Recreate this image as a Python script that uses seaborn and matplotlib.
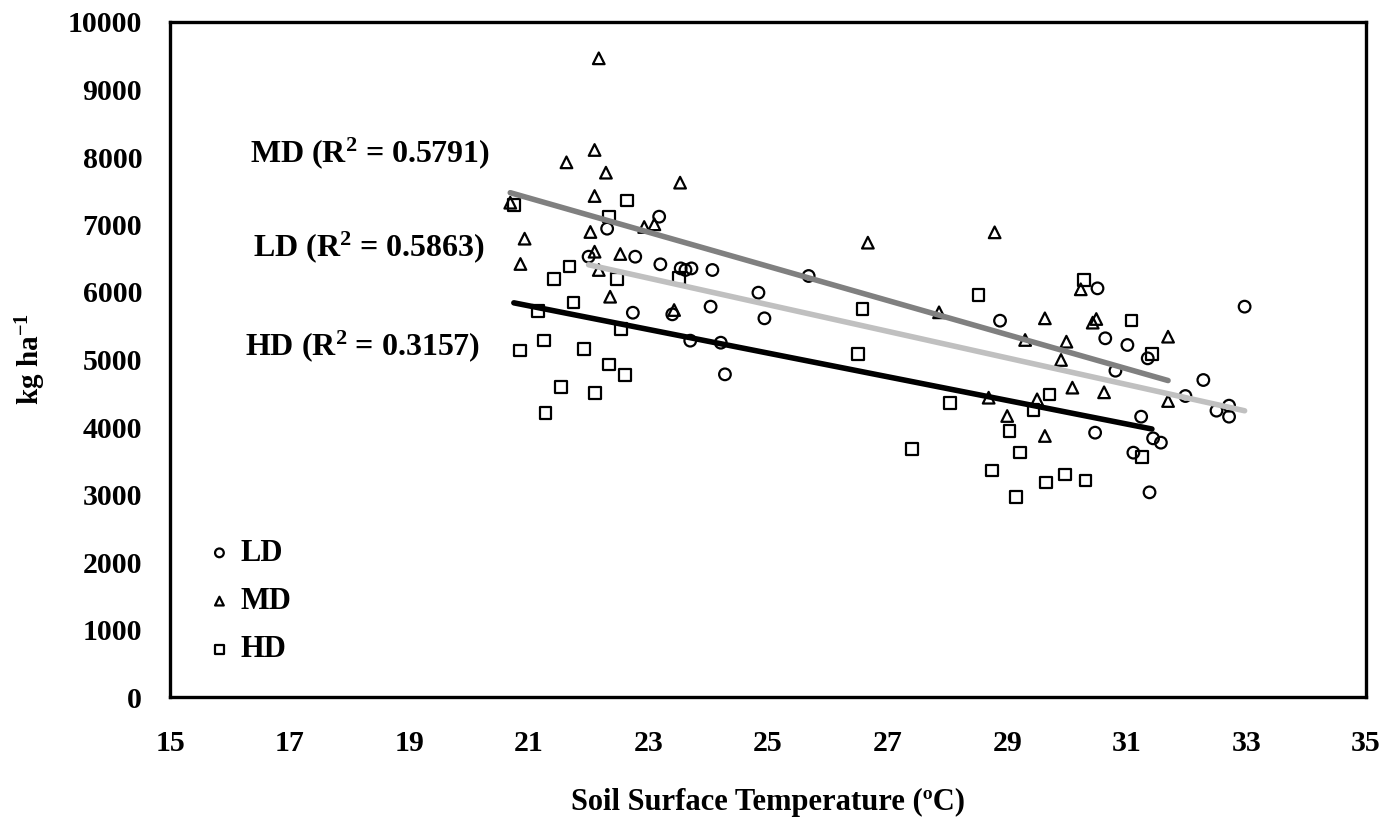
import numpy as np
import pandas as pd
import matplotlib
matplotlib.use("Agg")
import matplotlib.pyplot as plt
import seaborn as sns

# ---------------- data ----------------
ld_x = [22.00, 22.31, 22.78, 23.18, 23.20, 23.54, 23.62, 23.72, 24.07, 24.84,
        24.94, 24.04, 22.74, 23.40, 23.70, 24.21, 24.28, 25.68,
        28.88, 30.51, 32.97, 30.64, 31.01, 31.35, 30.81, 32.28, 31.98, 32.71,
        32.50, 32.71, 31.24, 30.47, 31.44, 31.57, 31.11, 31.38]
ld_y = [6523, 6938, 6523, 7116, 6410, 6350, 6326, 6350, 6326, 5990,
        5610, 5783, 5693, 5669, 5279, 5249, 4780, 6237,
        5575, 6054, 5783, 5314, 5215, 5017, 4834, 4696, 4459, 4316,
        4242, 4153, 4153, 3916, 3832, 3768, 3620, 3032]

md_x = [22.17, 22.10, 21.63, 22.29, 23.53, 22.10, 20.69, 22.93, 23.10, 22.03,
        20.93, 22.10, 22.53, 20.86, 22.17, 22.36, 23.43,
        26.67, 28.79, 27.86,
        29.63, 29.30, 30.23, 30.49, 30.43, 31.69, 29.99, 29.90, 31.69, 30.09,
        30.62, 29.50, 29.00, 29.63, 28.69]
md_y = [9462, 8104, 7921, 7768, 7620, 7422, 7323, 6963, 7003, 6889,
        6790, 6597, 6563, 6415, 6326, 5930, 5733,
        6731, 6884, 5699,
        5610, 5289, 6040, 5600, 5546, 5338, 5264, 4993, 4385, 4583,
        4514, 4410, 4163, 3867, 4434]

hd_x = [22.64, 20.75, 22.34, 21.68, 21.42, 22.48, 23.51, 21.75, 21.15, 22.54,
        21.25, 20.85, 21.92, 22.34, 22.61, 21.54, 22.11, 21.28,
        26.58, 28.52, 26.51, 28.04, 27.41,
        30.28, 31.08, 31.42, 29.71, 29.44, 29.04, 31.25, 29.21, 29.97, 29.65,
        30.31, 29.15, 28.75]
hd_y = [7353, 7289, 7116, 6375, 6193, 6193, 6203, 5842, 5719, 5452,
        5279, 5131, 5160, 4928, 4770, 4597, 4508, 4212,
        5748, 5956, 5077, 4360, 3674,
        6178, 5575, 5077, 4484, 4252, 3945, 3560, 3620, 3299, 3180,
        3205, 2967, 3353]

groups = ["LD", "MD", "HD"]
r2_labels = {"MD": "0.5791", "LD": "0.5863", "HD": "0.3157"}
x_ticks = list(range(15, 36, 2))
y_ticks = list(range(0, 10001, 1000))
x_label = "Soil Surface Temperature (ºC)"
y_label = r"kg ha$^{-1}$"

# ---------------- style ----------------
sns.set_theme(style="white")
plt.rcParams["font.family"] = ["Liberation Serif", "DejaVu Serif"]
plt.rcParams["font.weight"] = "bold"
plt.rcParams["text.color"] = "black"
plt.rcParams["axes.labelcolor"] = "black"
plt.rcParams["xtick.color"] = "black"
plt.rcParams["ytick.color"] = "black"
plt.rcParams["mathtext.fontset"] = "custom"
plt.rcParams["mathtext.default"] = "regular"
plt.rcParams["mathtext.rm"] = "Liberation Serif:bold"

data = {"LD": (ld_x, ld_y), "MD": (md_x, md_y), "HD": (hd_x, hd_y)}
markers = {"LD": "o", "MD": "^", "HD": "s"}
line_colors = {"LD": "#c0c0c0", "MD": "#808080", "HD": "#000000"}

W, H = 1389, 822
fig = plt.figure(figsize=(W / 100, H / 100), dpi=100)
ax = fig.add_axes([170 / W, 1 - 697 / H, (1366 - 170) / W, (697 - 22) / H])

for g in groups:
    df = pd.DataFrame({"x": data[g][0], "y": data[g][1]})
    sns.scatterplot(data=df, x="x", y="y", ax=ax, marker=markers[g], s=70,
                    facecolor="none", edgecolor="black", linewidth=1.6,
                    label=g, zorder=3)

for g in ["LD", "HD", "MD"]:
    df = pd.DataFrame({"x": data[g][0], "y": data[g][1]})
    sns.regplot(data=df, x="x", y="y", ax=ax, scatter=False, ci=None,
                truncate=True, line_kws={"color": line_colors[g], "lw": 4.0,
                                         "solid_capstyle": "round", "zorder": 4})

ax.set_xlim(15, 35)
ax.set_ylim(0, 10000)
ax.set_xticks(x_ticks)
ax.set_yticks(y_ticks)
ax.tick_params(axis="both", direction="out", length=7, width=1.5,
               labelsize=21.5, color="black", labelcolor="black")
ax.tick_params(axis="y", pad=13)
ax.tick_params(axis="x", pad=17)
for lab in ax.get_xticklabels() + ax.get_yticklabels():
    lab.set_fontweight("bold")
for sp in ax.spines.values():
    sp.set_visible(True)
    sp.set_color("black")
    sp.set_linewidth(2.4)

ax.set_xlabel(x_label, fontsize=22, fontweight="bold", labelpad=22)
ax.set_ylabel(y_label, fontsize=21, fontweight="bold", labelpad=14)

ann_pos = {"MD": (250, 153), "LD": (253, 247), "HD": (245, 346)}
for g, (px, py) in ann_pos.items():
    fig.text(px / W, 1 - py / H, f"{g} (R$^{{2}}$ = {r2_labels[g]})",
             fontsize=23, fontweight="bold", ha="left", va="center")

leg = ax.legend(loc="upper left", bbox_to_anchor=(0.003, 0.275), frameon=False,
                fontsize=22, handletextpad=0.1, labelspacing=0.63,
                markerscale=0.75, handlelength=1.2)
for t in leg.get_texts():
    t.set_fontweight("bold")

fig.savefig("out.png", dpi=100)
